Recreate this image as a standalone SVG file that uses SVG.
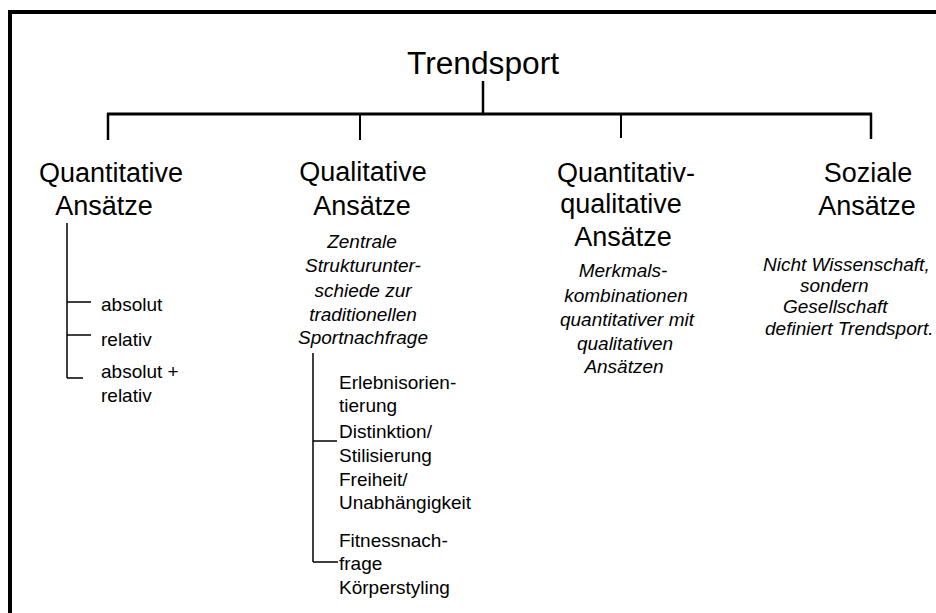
<svg xmlns="http://www.w3.org/2000/svg" width="936" height="613" viewBox="0 0 936 613">
<style>
text{font-family:"Liberation Sans",Arial,sans-serif;fill:#000}
.h{font-size:27px;text-anchor:middle}
.t{font-size:31px;text-anchor:middle}
.i{font-size:19px;font-style:italic;text-anchor:middle}
.s{font-size:19px}
.ln{stroke:#000;fill:none}
</style>
<rect width="936" height="613" fill="#fff"/>
<g id="frame" class="ln">
<line x1="8" y1="12" x2="936" y2="12" stroke-width="4"/>
<line x1="10" y1="10" x2="10" y2="613" stroke-width="4"/>
</g>
<g id="connectors" class="ln">
<line x1="483" y1="81" x2="483" y2="114" stroke-width="2.5"/>
<line x1="107" y1="114" x2="872" y2="114" stroke-width="3"/>
<line x1="108" y1="113" x2="108" y2="140" stroke-width="2.5"/>
<line x1="360" y1="113" x2="360" y2="140" stroke-width="2"/>
<line x1="621" y1="113" x2="621" y2="138" stroke-width="2"/>
<line x1="871" y1="113" x2="871" y2="139" stroke-width="2.5"/>
<path d="M67 223 V378 M67 302 H91 M67 335 H91 M67 378 H83" stroke-width="1.5"/>
<path d="M313 353 V562 M313 441 H337 M313 562 H338" stroke-width="1.5"/>
</g>
<g id="root"><text class="t" x="483" y="74" textLength="152" lengthAdjust="spacingAndGlyphs">Trendsport</text></g>
<g id="quantitative">
<text class="h" x="111" y="182">Quantitative</text>
<text class="h" x="104" y="215">Ansätze</text>
</g>
<g id="quant-items">
<text class="s" x="101" y="311">absolut</text>
<text class="s" x="101" y="346">relativ</text>
<text class="s" x="101" y="378">absolut +</text>
<text class="s" x="101" y="402">relativ</text>
</g>
<g id="qualitative">
<text class="h" x="363" y="181">Qualitative</text>
<text class="h" x="362" y="215">Ansätze</text>
<text class="i" x="362" y="248">Zentrale</text>
<text class="i" x="363" y="272">Strukturunter-</text>
<text class="i" x="363" y="297">schiede zur</text>
<text class="i" x="363" y="321">traditionellen</text>
<text class="i" x="363" y="344">Sportnachfrage</text>
</g>
<g id="qual-items">
<text class="s" x="339" y="389">Erlebnisorien-</text>
<text class="s" x="339" y="412">tierung</text>
<text class="s" x="339" y="438">Distinktion/</text>
<text class="s" x="339" y="462">Stilisierung</text>
<text class="s" x="339" y="486">Freiheit/</text>
<text class="s" x="339" y="509">Unabhängigkeit</text>
<text class="s" x="339" y="547">Fitnessnach-</text>
<text class="s" x="339" y="570">frage</text>
<text class="s" x="339" y="594">Körperstyling</text>
</g>
<g id="quant-qual">
<text class="h" x="626" y="182">Quantitativ-</text>
<text class="h" x="621" y="213">qualitative</text>
<text class="h" x="623" y="246">Ansätze</text>
<text class="i" x="623" y="277">Merkmals-</text>
<text class="i" x="626" y="302">kombinationen</text>
<text class="i" x="627" y="326">quantitativer mit</text>
<text class="i" x="625" y="350">qualitativen</text>
<text class="i" x="624" y="373">Ansätzen</text>
</g>
<g id="soziale">
<text class="h" x="868" y="182">Soziale</text>
<text class="h" x="867" y="215">Ansätze</text>
<text class="s" font-style="italic" x="763" y="271">Nicht Wissenschaft,</text>
<text class="s" font-style="italic" x="800" y="292">sondern</text>
<text class="s" font-style="italic" x="783" y="313">Gesellschaft</text>
<text class="s" font-style="italic" x="765" y="335">definiert Trendsport.</text>
</g>
</svg>
